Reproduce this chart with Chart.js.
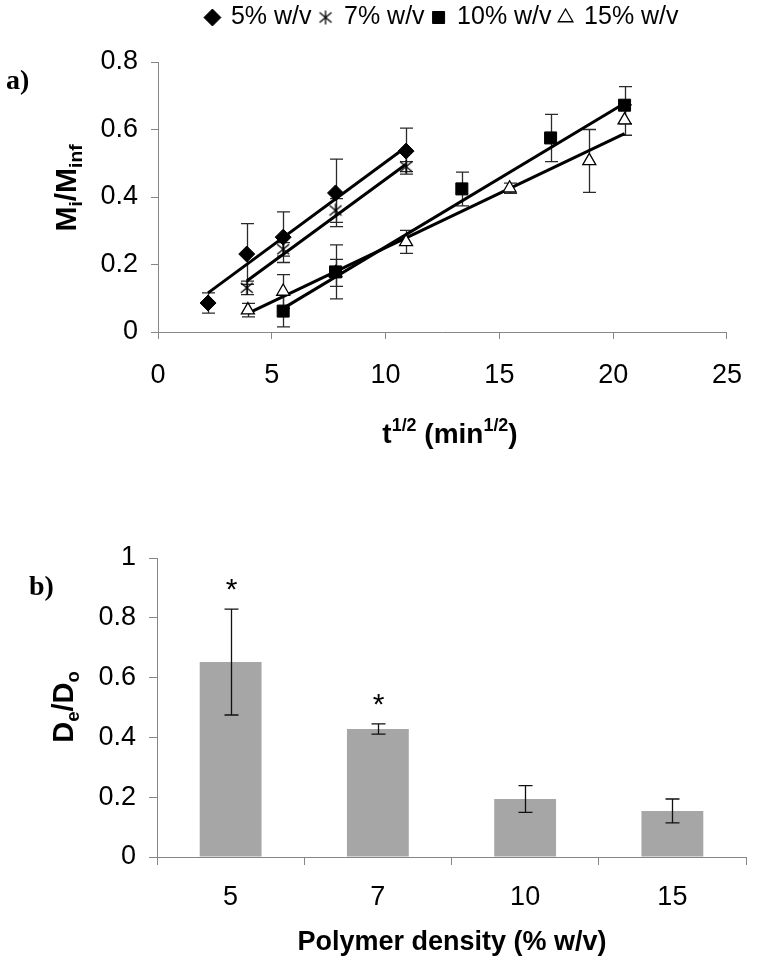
<!DOCTYPE html>
<html><head><meta charset="utf-8">
<script src="https://cdn.jsdelivr.net/npm/chart.js@4"></script>
<style>body{margin:0;background:#fff}canvas{display:block}</style>
</head><body>
<canvas id="c1" width="762" height="480"></canvas>
<canvas id="c2" width="762" height="484"></canvas>
<script>
// ---------- data: panel a ----------
const seriesLabels = ['5% w/v', '7% w/v', '10% w/v', '15% w/v'];
const x5 = [2.2, 3.9, 5.5, 7.8, 10.9];
const y5 = [0.086, 0.231, 0.281, 0.412, 0.536];
const e5 = [0.03, 0.09, 0.075, 0.10, 0.068];
const x7 = [3.9, 5.5, 7.8, 10.9];
const y7 = [0.131, 0.245, 0.36, 0.49];
const e7 = [0.02, 0.02, 0.035, 0.015];
const x10 = [5.5, 7.8, 13.35, 17.25, 20.5];
const y10 = [0.062, 0.178, 0.424, 0.575, 0.672];
const e10 = [0.047, 0.08, 0.05, 0.07, 0.055];
const x15 = [3.95, 5.5, 7.8, 10.9, 15.45, 18.95, 20.5];
const y15 = [0.065, 0.12, 0.175, 0.267, 0.426, 0.507, 0.628];
const e15 = [0.02, 0.05, 0.04, 0.034, 0.015, 0.093, 0.045];
// trend lines (end points)
const t5x = [2.2, 10.9],   t5y = [0.116, 0.548];
const t7x = [3.9, 10.9],   t7y = [0.151, 0.497];
const t10x = [5.5, 20.5],  t10y = [0.07, 0.678];
const t15x = [3.95, 20.5], t15y = [0.055, 0.588];
const xTicksA = [0, 5, 10, 15, 20, 25];
const yTicksA = [0, 0.2, 0.4, 0.6, 0.8];

// ---------- data: panel b ----------
const densities = ['5', '7', '10', '15'];
const ratio = [0.652, 0.428, 0.194, 0.154];
const ratioErr = [0.177, 0.017, 0.045, 0.04];
const signif = ['*', '*', '', ''];
const yTicksB = [0, 0.2, 0.4, 0.6, 0.8, 1];

const F = "'Liberation Sans', Arial, sans-serif";
const AX = '#868686';
const fmt = v => String(Math.round(v * 10) / 10);

function pts(xs, ys) { return xs.map((v, i) => ({x: v, y: ys[i]})); }

function starImg() {
  const c = document.createElement('canvas'); c.width = 16; c.height = 16;
  const g = c.getContext('2d'); g.strokeStyle = '#000'; g.lineWidth = 1.3;
  g.beginPath();
  g.moveTo(2, 3); g.lineTo(14, 13);
  g.moveTo(14, 3); g.lineTo(2, 13);
  g.moveTo(8, 1); g.lineTo(8, 15);
  g.stroke();
  return c;
}
const STAR = starImg();

function rich(ctx, parts, size, cx, cy, rot) {
  ctx.save(); ctx.translate(cx, cy); if (rot) ctx.rotate(rot);
  let w = 0;
  const segs = parts.map(p => {
    const s = p[1] ? size * 0.64 : size;
    ctx.font = 'bold ' + s + 'px ' + F;
    const m = ctx.measureText(p[0]).width; w += m;
    return {t: p[0], s, m, k: p[1] || 0};
  });
  let x = -w / 2; ctx.textBaseline = 'alphabetic'; ctx.fillStyle = '#000';
  for (const s of segs) {
    ctx.font = 'bold ' + s.s + 'px ' + F;
    const dy = s.k === -1 ? size * 0.2 : s.k === 1 ? -size * 0.42 : 0;
    ctx.fillText(s.t, x, size * 0.36 + dy); x += s.m;
  }
  ctx.restore();
}

function drawErr(ctx, xs, yTop, yBot, half) {
  ctx.beginPath();
  ctx.moveTo(xs, yTop); ctx.lineTo(xs, yBot);
  ctx.moveTo(xs - half, yTop); ctx.lineTo(xs + half, yTop);
  ctx.moveTo(xs - half, yBot); ctx.lineTo(xs + half, yBot);
  ctx.stroke();
}

const errPluginA = {
  id: 'errA',
  beforeDatasetsDraw(chart) {
    const ctx = chart.ctx, xs = chart.scales.x, ys = chart.scales.y;
    ctx.save(); ctx.strokeStyle = '#2a2a2a'; ctx.lineWidth = 1.3;
    chart.data.datasets.forEach(ds => {
      if (!ds.errs) return;
      ds.data.forEach((p, i) => {
        const px = Math.round(xs.getPixelForValue(p.x)) + 0.5;
        drawErr(ctx, px, ys.getPixelForValue(p.y + ds.errs[i]), ys.getPixelForValue(Math.max(0, p.y - ds.errs[i])), 6.5);
      });
    });
    ctx.restore();
  },
  afterLayout(chart) {
    if (chart.legend) { chart.legend.top -= 22; chart.legend.bottom -= 22; }
  },
  afterDraw(chart) {
    const ctx = chart.ctx;
    rich(ctx, [['M'], ['i', -1], ['/M'], ['inf', -1]], 30, 65, 188, -Math.PI / 2);
    rich(ctx, [['t'], ['1/2', 1], [' (min'], ['1/2', 1], [')']], 28, 450, 433, 0);
    ctx.save(); ctx.fillStyle = '#000'; ctx.font = "bold 28px 'Liberation Serif', 'Times New Roman', serif";
    ctx.textBaseline = 'middle'; ctx.fillText('a)', 6, 82); ctx.restore();
  }
};

new Chart(document.getElementById('c1'), {
  type: 'scatter',
  data: {
    datasets: [
      {label: seriesLabels[0], data: pts(x5, y5), errs: e5, pointStyle: 'rectRot', pointRadius: 8, backgroundColor: '#000', borderColor: '#000', borderWidth: 1, order: 0},
      {label: seriesLabels[1], data: pts(x7, y7), errs: e7, pointStyle: STAR, pointRadius: 8, backgroundColor: '#000', borderColor: '#000', order: 0},
      {label: seriesLabels[2], data: pts(x10, y10), errs: e10, pointStyle: 'rect', pointRadius: 8.5, backgroundColor: '#000', borderColor: '#000', borderWidth: 1, order: 0},
      {label: seriesLabels[3], data: pts(x15, y15), errs: e15, pointStyle: 'triangle', pointRadius: 7.5, backgroundColor: '#fff', borderColor: '#000', borderWidth: 1.3, order: 0},
      {label: 't5', data: pts(t5x, t5y), showLine: true, pointRadius: 0, borderColor: '#000', borderWidth: 3, order: 1},
      {label: 't7', data: pts(t7x, t7y), showLine: true, pointRadius: 0, borderColor: '#000', borderWidth: 3, order: 1},
      {label: 't10', data: pts(t10x, t10y), showLine: true, pointRadius: 0, borderColor: '#000', borderWidth: 3, order: 1},
      {label: 't15', data: pts(t15x, t15y), showLine: true, pointRadius: 0, borderColor: '#000', borderWidth: 3, order: 1}
    ]
  },
  options: {
    responsive: false, animation: false,
    layout: {padding: {left: 0, right: 22, top: 19, bottom: 0}},
    plugins: {
      tooltip: {enabled: false},
      legend: {
        position: 'top', fullSize: false,
        labels: {usePointStyle: true, boxWidth: 12, boxHeight: 12, padding: 8, color: '#000',
                 font: {family: F, size: 25}, filter: it => it.datasetIndex < 4}
      }
    },
    scales: {
      x: {
        type: 'linear', min: 0, max: 25,
        afterBuildTicks: s => { s.ticks = xTicksA.map(v => ({value: v})); },
        ticks: {color: '#000', font: {family: F, size: 27}, padding: 20, callback: fmt},
        grid: {drawOnChartArea: false, tickLength: 7, color: AX},
        border: {color: AX},
        afterFit: s => { s.height = 148; }
      },
      y: {
        min: 0, max: 0.8,
        afterBuildTicks: s => { s.ticks = yTicksA.map(v => ({value: v})); },
        ticks: {color: '#000', font: {family: F, size: 27}, padding: 13, callback: fmt},
        grid: {drawOnChartArea: false, tickLength: 7, color: AX},
        border: {color: AX},
        afterFit: s => { s.width = 158; }
      }
    }
  },
  plugins: [errPluginA]
});

const pluginB = {
  id: 'errB',
  afterDatasetsDraw(chart) {
    const ctx = chart.ctx, ys = chart.scales.y;
    const meta = chart.getDatasetMeta(0);
    ctx.save(); ctx.strokeStyle = '#111'; ctx.lineWidth = 1.3;
    meta.data.forEach((bar, i) => {
      const px = Math.round(bar.x) + 0.5;
      const top = ys.getPixelForValue(ratio[i] + ratioErr[i]);
      drawErr(ctx, px, top, ys.getPixelForValue(ratio[i] - ratioErr[i]), 7);
      if (signif[i]) {
        ctx.fillStyle = '#000'; ctx.font = '30px ' + F; ctx.textAlign = 'center'; ctx.textBaseline = 'middle';
        ctx.fillText(signif[i], px, top - 18);
      }
    });
    ctx.restore();
  },
  afterDraw(chart) {
    const ctx = chart.ctx;
    rich(ctx, [['D'], ['e', -1], ['/D'], ['o', -1]], 29, 63, 227, -Math.PI / 2);
    rich(ctx, [['Polymer density (% w/v)']], 27, 452, 460, 0);
    ctx.save(); ctx.fillStyle = '#000'; ctx.font = "bold 28px 'Liberation Serif', 'Times New Roman', serif";
    ctx.textBaseline = 'middle'; ctx.fillText('b)', 29, 108); ctx.restore();
  }
};

new Chart(document.getElementById('c2'), {
  type: 'bar',
  data: {labels: densities, datasets: [{data: ratio, backgroundColor: '#a6a6a6', borderWidth: 0, categoryPercentage: 1, barPercentage: 0.42}]},
  options: {
    responsive: false, animation: false,
    layout: {padding: {left: 0, right: 16, top: 78, bottom: 0}},
    plugins: {legend: {display: false}, tooltip: {enabled: false}},
    scales: {
      x: {
        ticks: {color: '#000', font: {family: F, size: 27}, padding: 16},
        grid: {drawOnChartArea: false, tickLength: 8, color: AX, offset: true},
        border: {color: AX},
        afterFit: s => { s.height = 107; }
      },
      y: {
        min: 0, max: 1,
        afterBuildTicks: s => { s.ticks = yTicksB.map(v => ({value: v})); },
        ticks: {color: '#000', font: {family: F, size: 27}, padding: 13, callback: fmt},
        grid: {drawOnChartArea: false, tickLength: 8, color: AX},
        border: {color: AX},
        afterFit: s => { s.width = 157; }
      }
    }
  },
  plugins: [pluginB]
});
</script>
</body></html>
